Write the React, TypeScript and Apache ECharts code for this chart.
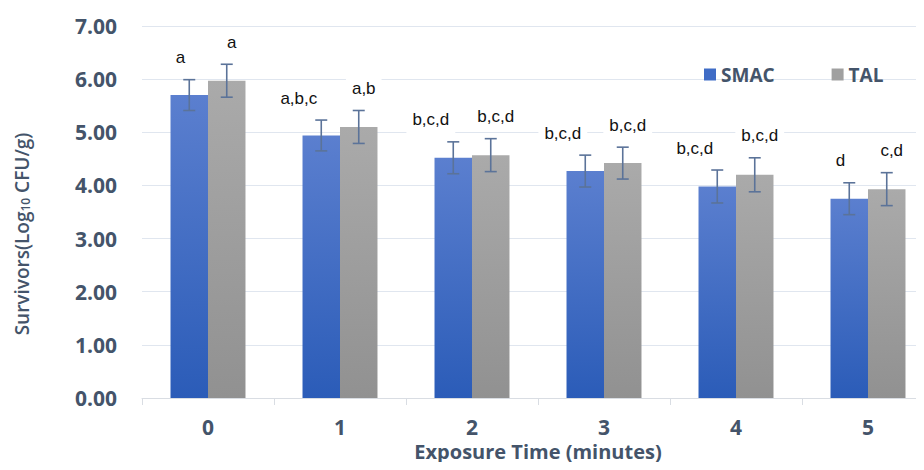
import React, { useEffect, useRef } from "react";
import * as echarts from "echarts";

const categories = ["0", "1", "2", "3", "4", "5"];
const smac = [5.7, 4.94, 4.52, 4.27, 3.98, 3.75];
const tal = [5.97, 5.1, 4.57, 4.42, 4.2, 3.93];
const smacErr = [0.29, 0.29, 0.3, 0.3, 0.31, 0.3];
const talErr = [0.31, 0.31, 0.31, 0.3, 0.32, 0.31];
const smacLetters = ["a", "a,b,c", "b,c,d", "b,c,d", "b,c,d", "d"];
const talLetters = ["a", "a,b", "b,c,d", "b,c,d", "b,c,d", "c,d"];
const yTicks = [0, 1, 2, 3, 4, 5, 6, 7];

const AXIS_COLOR = "#44546a";
const BAR_RATIO = 0.284;

export default function App() {
  const ref = useRef<HTMLDivElement>(null);
  useEffect(() => {
    if (!ref.current) return;
    const chart = echarts.init(ref.current, null, { renderer: "svg" });
    const blueGrad = new echarts.graphic.LinearGradient(0, 0, 0, 1, [
      { offset: 0, color: "#5b7fcf" },
      { offset: 1, color: "#2b5cb8" },
    ]);
    const grayGrad = new echarts.graphic.LinearGradient(0, 0, 0, 1, [
      { offset: 0, color: "#aaaaaa" },
      { offset: 1, color: "#919191" },
    ]);
    const errData: number[][] = [];
    const labelData: number[][] = [];
    const labelTexts: string[] = [];
    categories.forEach((_, i) => {
      errData.push([i, smac[i] - smacErr[i], smac[i] + smacErr[i], 0]);
      errData.push([i, tal[i] - talErr[i], tal[i] + talErr[i], 1]);
      labelData.push([i, smac[i] + smacErr[i], 0]);
      labelTexts.push(smacLetters[i]);
      labelData.push([i, tal[i] + talErr[i], 1]);
      labelTexts.push(talLetters[i]);
    });

    const option: any = {
      animation: false,
      textStyle: { fontFamily: "Open Sans" },
      grid: { left: 142, right: 0, top: 26, bottom: 72 },
      graphic: [
        {
          type: "text",
          x: 22,
          y: 234,
          rotation: Math.PI / 2,
          style: {
            text: "Survivors(Log{sub|10} CFU/g)",
            fill: AXIS_COLOR,
            fontFamily: "Open Sans",
            fontWeight: 600,
            fontSize: 19,
            align: "center",
            verticalAlign: "middle",
            rich: {
              sub: {
                fill: AXIS_COLOR,
                fontFamily: "Open Sans",
                fontWeight: 600,
                fontSize: 12,
                verticalAlign: "bottom",
                lineHeight: 14,
              },
            },
          },
        },
      ],
      legend: {
        left: 699,
        top: 60,
        itemWidth: 12,
        itemHeight: 12,
        itemGap: 57,
        icon: "rect",
        textStyle: {
          fontFamily: "Open Sans",
          fontWeight: "bold",
          fontSize: 19,
          color: AXIS_COLOR,
          padding: [0, 0, 0, 0],
        },
        data: [
          { name: "SMAC", itemStyle: { color: "#3f6cc6" } },
          { name: "TAL", itemStyle: { color: "#a0a0a0" } },
        ],
      },
      xAxis: {
        type: "category",
        data: categories,
        name: "Exposure Time (minutes)",
        nameLocation: "middle",
        nameGap: 43,
        nameTextStyle: {
          fontFamily: "Open Sans",
          fontWeight: "bold",
          fontSize: 20,
          color: AXIS_COLOR,
        },
        axisLine: { show: true, lineStyle: { color: "#d9dde3", width: 1 } },
        axisTick: { show: true, length: 7, lineStyle: { color: "#d9dde3" } },
        axisLabel: {
          margin: 18,
          fontFamily: "Open Sans",
          fontWeight: "bold",
          fontSize: 21,
          color: AXIS_COLOR,
        },
      },
      yAxis: {
        type: "value",
        min: yTicks[0],
        max: yTicks[yTicks.length - 1],
        interval: 1,
        axisLine: { show: false },
        axisTick: { show: false },
        splitLine: { lineStyle: { color: "#e0e6ef", width: 1 } },
        axisLabel: {
          margin: 25,
          fontFamily: "Open Sans",
          fontWeight: "bold",
          fontSize: 21,
          color: AXIS_COLOR,
          formatter: (v: number) => v.toFixed(2),
        },
      },
      series: [
        {
          name: "SMAC",
          type: "bar",
          data: smac,
          barWidth: BAR_RATIO * 100 + "%",
          barGap: "0%",
          itemStyle: { color: blueGrad },
          z: 2,
        },
        {
          name: "TAL",
          type: "bar",
          data: tal,
          barWidth: BAR_RATIO * 100 + "%",
          barGap: "0%",
          itemStyle: { color: grayGrad },
          z: 2,
        },
        {
          type: "custom",
          name: "letters",
          data: labelData,
          z: 3,
          silent: true,
          renderItem: (params: any, api: any) => {
            const i = api.value(0);
            const bw = api.size([1, 0])[0] * BAR_RATIO;
            const isBlue = api.value(2) === 0;
            const cx = api.coord([i, 0])[0] + (isBlue ? -0.5 : 0.5) * bw;
            const y = api.coord([i, api.value(1)])[1] - 22;
            return {
              type: "text",
              x: isBlue ? cx + 2 : cx + 5,
              y,
              style: {
                text: labelTexts[params.dataIndex],
                fill: "#111111",
                fontFamily: "Liberation Sans",
                fontSize: 17,
                align: isBlue ? "right" : "center",
                verticalAlign: "middle",
                backgroundColor: "#ffffff",
                padding: [5, 6],
              },
            };
          },
        },
        {
          type: "custom",
          name: "errors",
          data: errData,
          z: 4,
          silent: true,
          renderItem: (params: any, api: any) => {
            const i = api.value(0);
            const bw = api.size([1, 0])[0] * BAR_RATIO;
            const sign = api.value(3) === 0 ? -0.5 : 0.5;
            const x = api.coord([i, 0])[0] + sign * bw;
            const yLow = api.coord([i, api.value(1)])[1];
            const yHigh = api.coord([i, api.value(2)])[1];
            const cap = 6;
            const style = { stroke: "#5b7399", lineWidth: 1.6 };
            return {
              type: "group",
              children: [
                { type: "line", shape: { x1: x, y1: yLow, x2: x, y2: yHigh }, style },
                { type: "line", shape: { x1: x - cap, y1: yHigh, x2: x + cap, y2: yHigh }, style },
                { type: "line", shape: { x1: x - cap, y1: yLow, x2: x + cap, y2: yLow }, style },
              ],
            };
          },
        },
      ],
    };
    chart.setOption(option);
    return () => chart.dispose();
  }, []);
  return (
    <div style={{ width: 924, height: 470, margin: -8, overflow: "hidden", position: "relative" }}>
      <div ref={ref} style={{ width: 934, height: 470 }} />
    </div>
  );
}
